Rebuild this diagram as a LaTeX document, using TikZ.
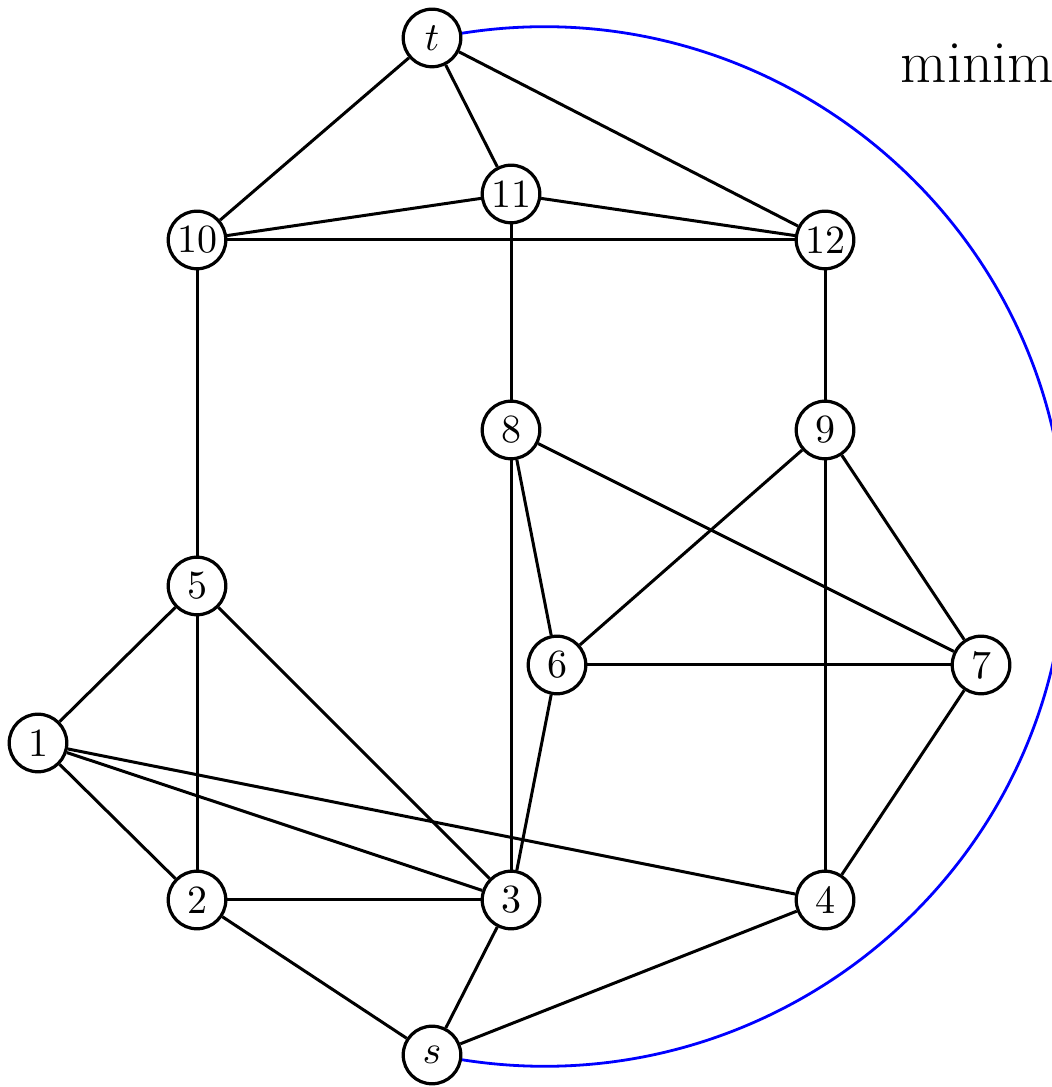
\documentclass[tikz,border=0pt]{standalone}
\usetikzlibrary{topaths}
\begin{document}
\begin{tikzpicture}[x=0.25pt,y=0.25pt,
  vtx/.style={circle,draw,thick,minimum size=14.4pt,inner sep=0pt,font=\normalsize},
  edge/.style={line width=0.75pt},
  cut/.style={blue,line width=0.7pt}]
\useasboundingbox (0,0) rectangle (1051,1087);
\node[vtx] (t)  at (432,1049) {$t$};
\node[vtx] (n10) at (197,847) {10};
\node[vtx] (n11) at (511,893) {11};
\node[vtx] (n12) at (825,847) {12};
\node[vtx] (n8) at (511,657) {8};
\node[vtx] (n9) at (825,657) {9};
\node[vtx] (n5) at (197,501) {5};
\node[vtx] (n6) at (557,422) {6};
\node[vtx] (n7) at (981,422) {7};
\node[vtx] (n1) at (38,344) {1};
\node[vtx] (n2) at (197,187) {2};
\node[vtx] (n3) at (511,187) {3};
\node[vtx] (n4) at (825,187) {4};
\node[vtx] (s)  at (432,32) {$s$};
\node[anchor=base west,inner sep=0pt,font=\fontsize{15pt}{18pt}\selectfont] (lbl) at (900,1004) {minim};
\coordinate (r) at (1066,540);
\foreach \a/\b in {t/n10,t/n11,t/n12,n10/n11,n11/n12,n10/n12,n11/n8,n10/n5,n12/n9,
  n8/n3,n8/n6,n8/n7,n9/n6,n9/n4,n9/n7,n6/n7,n6/n3,n7/n4,n5/n1,n5/n2,n5/n3,
  n1/n2,n1/n3,n1/n4,n2/n3,n2/s,n3/s,n4/s}
  \draw[edge] (\a) -- (\b);
\draw[cut] (t) to[out=9,in=90,looseness=1.03] (r) to[out=-90,in=-9,looseness=1.03] (s);
\end{tikzpicture}
\end{document}
